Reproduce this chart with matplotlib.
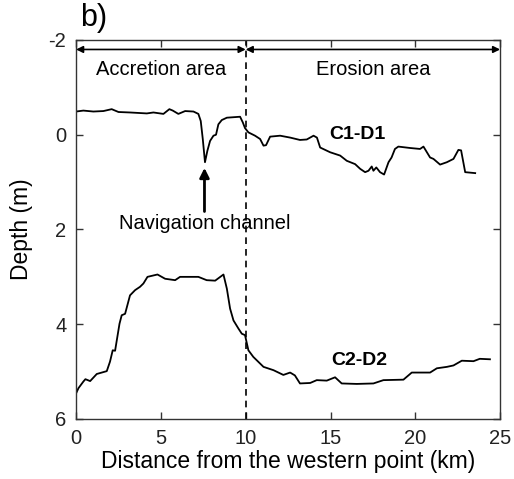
import matplotlib
matplotlib.use("Agg")
import matplotlib.pyplot as plt

plt.rcParams['font.family'] = ['Liberation Sans', 'DejaVu Sans']
plt.rcParams['axes.unicode_minus'] = False

# C1-D1 profile (distance km, depth m)
c1_x = [0.0, 0.43, 1.02, 1.61, 2.1, 2.5, 3.18, 4.17, 4.56, 5.15, 5.5, 5.7, 6.03, 6.43, 6.92,
        7.21, 7.35, 7.47, 7.6, 7.74, 7.9, 8.1, 8.25, 8.39, 8.59, 8.89, 9.67, 9.83, 9.96,
        10.16, 10.55, 10.85, 11.05, 11.2, 11.44, 12.03, 12.62, 13.2, 13.6, 14.0, 14.2,
        14.39, 14.98, 15.57, 15.96, 16.45, 16.75, 17.04, 17.24, 17.43, 17.53, 17.7, 17.92,
        18.16, 18.42, 18.6, 18.8, 19.0, 19.7, 20.28, 20.48, 20.87, 21.07, 21.46, 21.86,
        22.25, 22.54, 22.7, 22.94, 23.53]
c1_y = [-0.49, -0.51, -0.49, -0.5, -0.54, -0.48, -0.47, -0.45, -0.47, -0.44, -0.54, -0.51,
        -0.44, -0.5, -0.49, -0.44, -0.29, 0.09, 0.58, 0.34, 0.13, 0.02, 0.0, -0.22, -0.31,
        -0.36, -0.38, -0.26, -0.14, -0.05, 0.02, 0.09, 0.23, 0.22, 0.04, 0.02, 0.06, 0.11,
        0.1, 0.02, 0.06, 0.27, 0.37, 0.44, 0.55, 0.62, 0.72, 0.79, 0.76, 0.67, 0.76, 0.69,
        0.79, 0.84, 0.58, 0.48, 0.3, 0.25, 0.28, 0.3, 0.25, 0.48, 0.51, 0.63, 0.58, 0.51,
        0.32, 0.33, 0.79, 0.81]

# C2-D2 profile (distance km, depth m)
c2_x = [0.0, 0.14, 0.43, 0.55, 0.83, 1.22, 1.81, 2.0, 2.16, 2.3, 2.56, 2.69, 2.89, 3.18,
        3.48, 3.77, 3.97, 4.21, 4.8, 5.25, 5.84, 6.13, 6.62, 7.21, 7.7, 8.2, 8.69, 8.89,
        9.08, 9.28, 9.57, 9.77, 9.96, 10.16, 10.45, 11.05, 11.64, 12.22, 12.62, 12.9, 13.2,
        13.8, 14.19, 14.78, 15.27, 15.66, 16.55, 17.53, 18.12, 19.3, 19.79, 20.87, 21.27,
        21.86, 22.25, 22.74, 23.43, 23.8, 24.4]
c2_y = [5.46, 5.35, 5.21, 5.16, 5.2, 5.05, 4.99, 4.79, 4.55, 4.56, 3.99, 3.81, 3.78, 3.39,
        3.28, 3.21, 3.14, 3.0, 2.95, 3.04, 3.07, 3.0, 3.0, 3.0, 3.07, 3.08, 2.95, 3.25, 3.67,
        3.92, 4.09, 4.2, 4.23, 4.55, 4.69, 4.9, 4.97, 5.07, 5.02, 5.08, 5.25, 5.24, 5.18,
        5.19, 5.12, 5.25, 5.26, 5.25, 5.18, 5.17, 5.02, 5.02, 4.93, 4.9, 4.87, 4.77, 4.78,
        4.73, 4.74]

x_ticks = [0, 5, 10, 15, 20, 25]
y_ticks = [-2, 0, 2, 4, 6]
boundary_km = 10

fig = plt.figure(figsize=(5.14, 4.79), dpi=100)
ax = fig.add_axes([0.148, 0.1253, 0.825, 0.7912])

ax.plot(c1_x, c1_y, color='black', lw=1.3)
ax.plot(c2_x, c2_y, color='black', lw=1.3)
ax.axvline(boundary_km, color='black', lw=1.2, ls=(0, (4, 3)))

ax.set_xlim(0, 25)
ax.set_ylim(6, -2)
ax.set_xticks(x_ticks)
ax.set_yticks(y_ticks)
ax.tick_params(direction='in', top=True, right=True, labelsize=14.5, length=5, width=1,
               pad=7, colors='#333333', labelcolor='#222222')
for s in ax.spines.values():
    s.set_linewidth(1.0)
    s.set_color('#333333')

ax.set_xlabel('Distance from the western point (km)', fontsize=16.5, labelpad=2)
ax.set_ylabel('Depth (m)', fontsize=16.5, labelpad=11)

# region arrows
arr_y = -1.8
ax.annotate('', xy=(0, arr_y), xytext=(boundary_km, arr_y),
            arrowprops=dict(arrowstyle='<|-|>', color='black', lw=1.2, mutation_scale=10,
                            shrinkA=0, shrinkB=0))
ax.annotate('', xy=(boundary_km, arr_y), xytext=(25, arr_y),
            arrowprops=dict(arrowstyle='<|-|>', color='black', lw=1.2, mutation_scale=10,
                            shrinkA=0, shrinkB=0))
ax.text(5, -1.38, 'Accretion area', ha='center', va='center', fontsize=14.5)
ax.text(17.5, -1.38, 'Erosion area', ha='center', va='center', fontsize=14.5)

ax.text(16.6, 0.0, 'C1-D1', ha='center', va='center', fontsize=14, fontweight='bold')
ax.text(16.7, 4.76, 'C2-D2', ha='center', va='center', fontsize=14, fontweight='bold')

ax.annotate('', xy=(7.57, 0.7), xytext=(7.57, 1.62),
            arrowprops=dict(arrowstyle='-|>', color='black', lw=2, mutation_scale=14,
                            shrinkA=0, shrinkB=0))
ax.text(7.6, 1.87, 'Navigation channel', ha='center', va='center', fontsize=14.5)

fig.text(0.155, 0.963, 'b)', fontsize=22, ha='left', va='center')

fig.savefig('out.png', dpi=100)
